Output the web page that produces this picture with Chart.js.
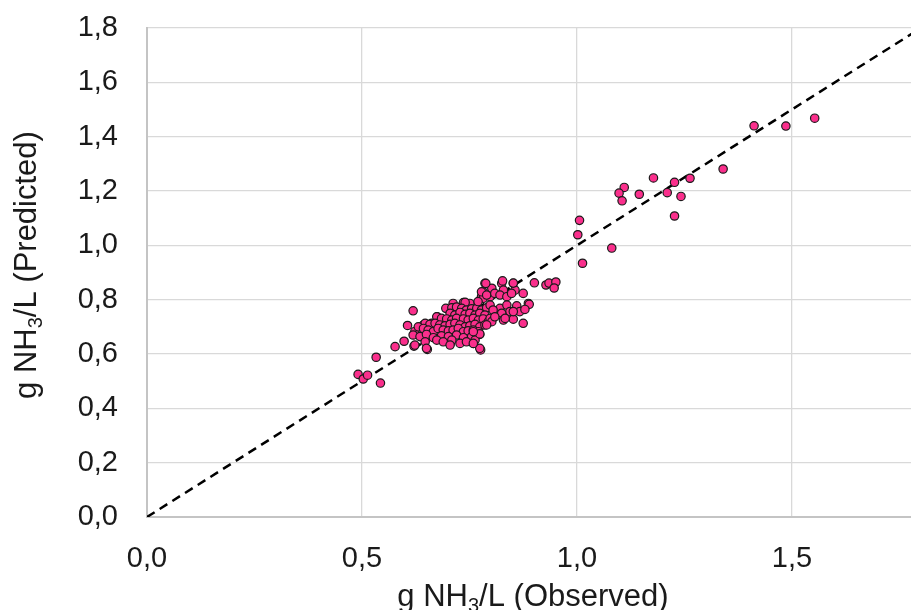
<!DOCTYPE html>
<html>
<head>
<meta charset="utf-8">
<script src="https://cdn.jsdelivr.net/npm/chart.js@4/dist/chart.umd.min.js"></script>
<style>
  html, body { margin: 0; padding: 0; background: #fff; overflow: hidden; }
  #wrap { width: 911px; height: 610px; position: relative; }
  canvas { display: block; }
</style>
</head>
<body>
<div id="wrap"><canvas id="nh3Chart"></canvas></div>
<script>
// ===============================================
// 1. Data
// ===============================================
const observed = [
  1.553, 1.486, 1.412, 1.340, 1.263, 1.227, 1.178, 1.210, 1.242, 1.145, 1.110, 1.098, 1.105, 1.227, 1.006, 1.002, 1.081, 1.013,
  0.928, 0.935, 0.951, 0.947, 0.901,
  0.491, 0.503, 0.513, 0.543, 0.533, 0.577, 0.598, 0.621, 0.652, 0.619, 0.606, 0.623,
  0.643, 0.662, 0.675, 0.652, 0.667, 0.712, 0.736, 0.751, 0.782, 0.778,
  0.705, 0.759, 0.776,
  0.740, 0.782, 0.798, 0.695, 0.709, 0.720, 0.732, 0.743, 0.755, 0.767, 0.778, 0.790,
  0.705, 0.716, 0.728, 0.740, 0.751, 0.763, 0.774, 0.786,
  0.674, 0.685, 0.697, 0.709, 0.720, 0.736, 0.747, 0.759, 0.771, 0.782, 0.794,
  0.647, 0.658, 0.670, 0.681, 0.693, 0.705, 0.716, 0.728, 0.740, 0.751, 0.763, 0.774,
  0.631, 0.643, 0.654, 0.666, 0.677, 0.689, 0.701, 0.712, 0.724, 0.736, 0.747, 0.759, 0.771, 0.786,
  0.619, 0.635, 0.650, 0.666, 0.685, 0.701, 0.720, 0.736, 0.755, 0.774,
  0.623, 0.647, 0.674, 0.689, 0.709, 0.728, 0.743, 0.763, 0.650, 0.705, 0.774, 0.759,
  0.786, 0.802, 0.778, 0.790, 0.809, 0.825, 0.829, 0.821, 0.837, 0.852, 0.856, 0.848, 0.875,
  0.770, 0.798, 0.821, 0.837, 0.860, 0.887, 0.867, 0.844, 0.825, 0.805, 0.798, 0.829, 0.852, 0.875,
  0.833, 0.852, 0.774, 0.759, 0.802, 0.809, 0.790,
  0.788, 0.827, 0.852, 0.889, 0.879
];
const predicted = [
  1.468, 1.439, 1.440, 1.281, 1.247, 1.232, 1.248, 1.194, 1.180, 1.188, 1.213, 1.192, 1.164, 1.108, 1.092, 1.039, 0.990, 0.934,
  0.854, 0.861, 0.865, 0.843, 0.862,
  0.525, 0.508, 0.522, 0.493, 0.588, 0.627, 0.647, 0.629, 0.617, 0.759, 0.705, 0.683,
  0.707, 0.713, 0.737, 0.661, 0.661, 0.786, 0.789, 0.786, 0.829, 0.811,
  0.639, 0.639, 0.615,
  0.790, 0.805, 0.811, 0.768, 0.770, 0.773, 0.768, 0.762, 0.766, 0.768, 0.762, 0.770,
  0.750, 0.743, 0.753, 0.746, 0.750, 0.743, 0.750, 0.743,
  0.737, 0.731, 0.729, 0.725, 0.731, 0.729, 0.725, 0.731, 0.725, 0.729, 0.719,
  0.713, 0.709, 0.713, 0.707, 0.704, 0.709, 0.713, 0.707, 0.700, 0.704, 0.709, 0.700,
  0.700, 0.694, 0.688, 0.682, 0.694, 0.688, 0.685, 0.688, 0.694, 0.682, 0.685, 0.688, 0.682, 0.707,
  0.670, 0.664, 0.672, 0.660, 0.667, 0.664, 0.670, 0.660, 0.664, 0.672,
  0.633, 0.645, 0.651, 0.645, 0.651, 0.639, 0.645, 0.651, 0.621, 0.633, 0.621, 0.639,
  0.860, 0.842, 0.829, 0.817, 0.823, 0.860, 0.835, 0.817, 0.811, 0.860, 0.835, 0.823, 0.823,
  0.793, 0.780, 0.768, 0.780, 0.777, 0.786, 0.756, 0.756, 0.750, 0.762, 0.731, 0.725, 0.728, 0.713,
  0.731, 0.756, 0.674, 0.682, 0.719, 0.737, 0.707,
  0.860, 0.869, 0.861, 0.783, 0.764
];
// 1:1 reference line
const lineX = [0, 1.8];
const lineY = [0, 1.8];
const xTicks = [0, 0.5, 1.0, 1.5];
const xTitle = ['g NH', '3', '/L (Observed)'];
const yTitle = ['g NH', '3', '/L (Predicted)'];

// ===============================================
// 2. Helpers
// ===============================================
const FONT = '"Liberation Sans", Arial, sans-serif';
const fmt = v => Number(v).toFixed(1).replace('.', ',');

// title with a real subscript "3"
function drawSubTitle(ctx, parts, cx, cy, rotate) {
    ctx.save();
    ctx.translate(cx, cy);
    if (rotate) ctx.rotate(-Math.PI / 2);
    ctx.fillStyle = '#1a1a1a';
    ctx.textBaseline = 'alphabetic';
    ctx.textAlign = 'left';
    const big = '31px ' + FONT, small = '20px ' + FONT;
    ctx.font = big;
    const w1 = ctx.measureText(parts[0]).width;
    const w3 = ctx.measureText(parts[2]).width;
    ctx.font = small;
    const w2 = ctx.measureText(parts[1]).width;
    let x = -(w1 + w2 + w3) / 2;
    ctx.font = big;
    ctx.fillText(parts[0], x, 0);
    x += w1;
    ctx.font = small;
    ctx.fillText(parts[1], x, 6);
    x += w2;
    ctx.font = big;
    ctx.fillText(parts[2], x, 0);
    ctx.restore();
}

const titlePlugin = {
    id: 'axisTitles',
    afterDraw(chart) {
        const ctx = chart.ctx;
        drawSubTitle(ctx, xTitle, 533, 606, false);
        drawSubTitle(ctx, yTitle, 36, 265, true);
    }
};

// ===============================================
// 3. Chart.js Setup
// ===============================================
const ctx = document.getElementById('nh3Chart').getContext('2d');

new Chart(ctx, {
    type: 'scatter',
    data: {
        datasets: [
            {
                label: 'Data',
                data: observed.map((x, i) => ({ x: x, y: predicted[i] })),
                backgroundColor: '#fa2f8c',
                borderColor: '#1a1a1a',
                borderWidth: 1.2,
                pointRadius: 4.2,
                order: 1
            },
            {
                label: '1:1',
                type: 'line',
                data: lineX.map((x, i) => ({ x: x, y: lineY[i] })),
                borderColor: '#000',
                borderWidth: 2.5,
                borderDash: [9, 6],
                pointRadius: 0,
                fill: false,
                order: 2
            }
        ]
    },
    options: {
        responsive: true,
        maintainAspectRatio: false,
        animation: false,
        layout: { autoPadding: false, padding: { top: 28, right: 0, left: 0, bottom: 0 } },
        plugins: {
            legend: { display: false },
            tooltip: { enabled: false }
        },
        scales: {
            x: {
                type: 'linear',
                min: 0,
                max: 1.777,
                afterBuildTicks: scale => { scale.ticks = xTicks.map(v => ({ value: v })); },
                afterFit: scale => {
                    scale.height = 93;
                    scale.paddingLeft = 0;
                    scale.paddingRight = 0;
                },
                grid: { color: '#d9d9d9', lineWidth: 1.3, drawTicks: false },
                border: { color: '#c4c4c4', width: 2 },
                ticks: {
                    padding: 25,
                    color: '#1a1a1a',
                    font: { family: FONT, size: 29 },
                    maxRotation: 0,
                    callback: v => fmt(v)
                }
            },
            y: {
                type: 'linear',
                min: 0,
                max: 1.8,
                afterFit: scale => {
                    scale.width = 147;
                    scale.paddingTop = 0;
                    scale.paddingBottom = 0;
                },
                grid: { color: '#d9d9d9', lineWidth: 1.3, drawTicks: false },
                border: { color: '#c4c4c4', width: 2 },
                ticks: {
                    stepSize: 0.2,
                    padding: 29,
                    color: '#1a1a1a',
                    font: { family: FONT, size: 29 },
                    callback: v => fmt(v)
                }
            }
        }
    },
    plugins: [titlePlugin]
});
</script>
</body>
</html>
